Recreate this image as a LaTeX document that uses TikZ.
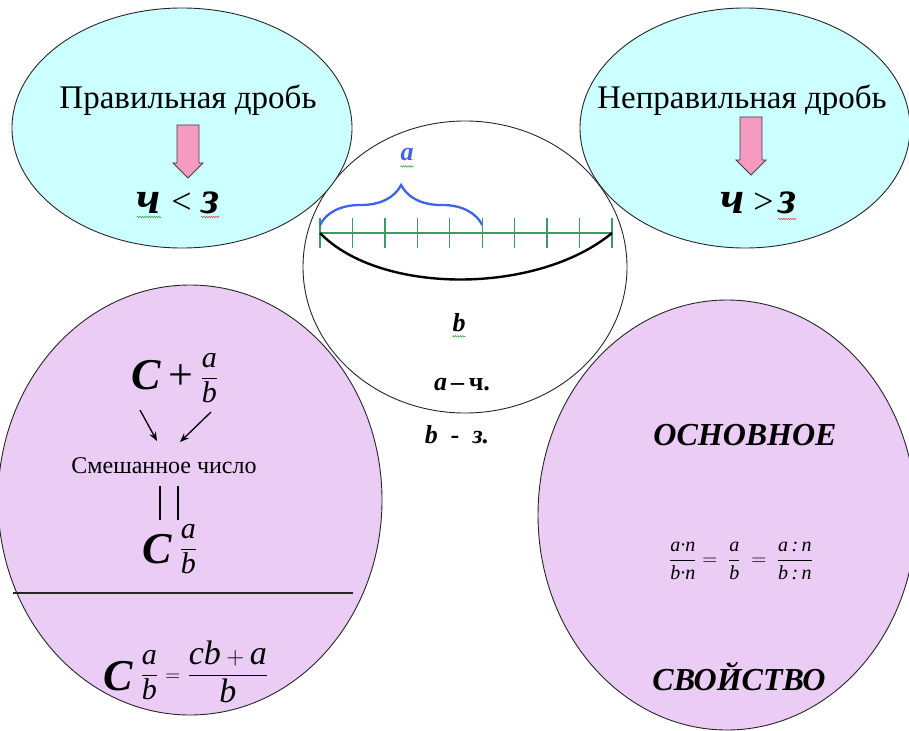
\documentclass[tikz,border=0pt]{standalone}
\usepackage{amsmath}
\usepackage{fontspec}
\setmainfont{Liberation Serif}
\usepackage{tikz}
\usetikzlibrary{
    arrows.meta, positioning, calc, shapes.geometric,
    decorations.pathmorphing, decorations.pathreplacing
}
\definecolor{cyanfill}{HTML}{CCFFFF}
\definecolor{lilacfill}{HTML}{EACCF4}
\definecolor{pinkfill}{HTML}{F59AC1}
\definecolor{rulegreen}{HTML}{3C9A64}
\definecolor{braceblue}{HTML}{3F63E6}
\definecolor{squigred}{HTML}{E0404A}
\definecolor{squiggreen}{HTML}{3A9A3A}

\begin{document}
\begin{tikzpicture}[x=1pt, y=1pt,
    every node/.style={inner sep=0pt},
    bubble/.style={
        ellipse, draw=black!85, line width=0.9pt,
    },
    heading/.style={font=\fontsize{33}{36}\selectfont},
    bigvar/.style={font=\fontsize{46}{46}\selectfont\bfseries\itshape},
    relsign/.style={font=\fontsize{36}{36}\selectfont},
    circvar/.style={font=\fontsize{26}{28}\selectfont\bfseries\itshape},
    mathbox/.style={font=\fontsize{44}{44}\selectfont},
    capsword/.style={font=\fontsize{32}{34}\selectfont\bfseries\itshape},
    blockarrow/.style={
        draw=black!75, fill=pinkfill, line width=0.8pt, line join=miter,
        to path={
            let \p1=(\tikztostart), \p2=(\tikztotarget) in
            (\x1-11pt,\y1) -- (\x1+11pt,\y1) -- (\x1+11pt,\y2+15pt)
            -- (\x1+15pt,\y2+15pt) -- (\x1,\y2) -- (\x1-15pt,\y2+15pt)
            -- (\x1-11pt,\y2+15pt) -- cycle
        },
    },
    squiggle/.style={
        draw=#1, line width=0.5pt,
        decorate, decoration={snake, amplitude=0.8pt, segment length=2.4pt},
    },
    rulerline/.style={draw=rulegreen, line width=1.3pt},
    sagline/.style={draw=black, line width=2.4pt},
    bracepath/.style={
        draw=braceblue, line width=2.3pt,
        decorate, decoration={brace, amplitude=40pt},
    },
    thinarrow/.style={
        draw=black, line width=1.3pt, -{Stealth[length=9pt, width=7pt]},
    },
    eqbar/.style={draw=black, line width=1.8pt},
    divider/.style={draw=black!85, line width=2.4pt},
]
\useasboundingbox (0,0) rectangle (909,-730);

% ── Centre circle: the unit segment ───────────────────────────────────
\node[bubble, fill=white, minimum width=324pt, minimum height=292pt]
    (segBubble) at (465,-267) {};

% ── Top left: proper fraction ─────────────────────────────────────────
\node[bubble, fill=cyanfill, minimum width=340pt, minimum height=240pt]
    (propBubble) at (182,-128) {};
\node[heading] (propTitle) at (188,-100) {Правильная дробь};
\coordinate (propArrTop) at (188,-125);
\coordinate (propArrTip) at (188,-178);
\draw[blockarrow] (propArrTop) to (propArrTip);
\node[bigvar, anchor=base] (propCh) at (149,-213) {ч};
\node[relsign, base right=10pt of propCh] (propLt) {<};
\node[bigvar, base right=9pt of propLt] (propZ) {з};
\draw[squiggle=squiggreen] ([yshift=-4pt]propCh.base west) -- ([yshift=-4pt]propCh.base east);
\draw[squiggle=squigred] ([yshift=-4pt]propZ.base west) -- ([yshift=-4pt]propZ.base east);

% ── Top right: improper fraction ──────────────────────────────────────
\node[bubble, fill=cyanfill, minimum width=330pt, minimum height=240pt]
    (impBubble) at (745,-128) {};
\node[heading] (impTitle) at (742,-100) {Неправильная дробь};
\coordinate (impArrTop) at (751,-117);
\coordinate (impArrTip) at (751,-175);
\draw[blockarrow] (impArrTop) to (impArrTip);
\node[bigvar, anchor=base] (impCh) at (733,-213) {ч};
\node[relsign, base right=8pt of impCh] (impGt) {>};
\node[bigvar, base right=4pt of impGt] (impZ) {з};
\draw[squiggle=squigred] ([yshift=-6pt]impZ.base west) -- ([yshift=-6pt]impZ.base east);

% ── Segment, brace and labels ─────────────────────────────────────────
\coordinate (rulerL) at (320,-233);
\coordinate (rulerR) at (612,-233);
\draw[rulerline] (rulerL) -- (rulerR);
\foreach \i in {0,...,9}
    \draw[rulerline] ($(rulerL)!\i/9!(rulerR)$) ++(0,15) -- ++(0,-30);
\draw[sagline] (rulerL) .. controls +(60,-62) and +(-75,-62) .. (rulerR);
\coordinate (braceL) at (320,-225);
\coordinate (braceR) at ($(rulerL)!5/9!(rulerR)+(0,8)$);
\draw[bracepath] (braceL) -- (braceR);
\node[circvar, text=braceblue] (aLabel) at (407,-155) {a};
\draw[squiggle=squiggreen] ([yshift=-5pt]aLabel.south west) -- ([yshift=-5pt]aLabel.south east);
\node[circvar] (bLabel) at (459,-323) {b};
\draw[squiggle=squiggreen] ([yshift=-4pt]bLabel.south west) -- ([yshift=-4pt]bLabel.south east);
\node[circvar] (aMeans) at (462,-385) {a\,–\,\upshape ч.};
\node[circvar] (bMeans) at (457,-435) {b\ \ -\ \ з.};

% ── Bottom left: mixed number ─────────────────────────────────────────
\node[bubble, fill=lilacfill, minimum width=384pt, minimum height=430pt]
    (mixBubble) at (190,-500) {};
\node[mathbox] (sumForm) at (175,-378) {%
    {\bfseries\itshape C}\,{\fontsize{44}{44}\selectfont+}\,%
    \raisebox{5pt}{\fontsize{30}{30}\selectfont$\dfrac{\textit{a}}{\textit{b}}$}};
\coordinate (sumArrL) at (140,-410);
\coordinate (mixArrL) at (157,-441);
\coordinate (sumArrR) at (211,-412);
\coordinate (mixArrR) at (180,-442);
\draw[thinarrow] (sumArrL) -- (mixArrL);
\draw[thinarrow] (sumArrR) -- (mixArrR);
\node[font=\fontsize{24}{26}\selectfont] (mixed) at (164,-466) {Смешанное число};
\draw[eqbar] ([xshift=-4pt,yshift=-12pt]mixed.south) -- ++(0,-34);
\draw[eqbar] ([xshift=14pt,yshift=-12pt]mixed.south) -- ++(0,-34);
\node[mathbox] (mixForm) at (170,-549) {%
    {\bfseries\itshape C}\,%
    \raisebox{8pt}{\fontsize{30}{30}\selectfont$\dfrac{\textit{a}}{\textit{b}}$}};
\coordinate (divL) at (13,-593);
\coordinate (divR) at (353,-593);
\draw[divider] (divL) -- (divR);
\node[mathbox] (convForm) at (186,-672) {%
    {\bfseries\itshape C}\,%
    \raisebox{9pt}{\fontsize{30}{30}\selectfont$\dfrac{\textit{a}}{\textit{b}}$}\,%
    \raisebox{9pt}{\fontsize{22}{22}\selectfont$=$}\,%
    \raisebox{9pt}{\fontsize{34}{34}\selectfont$\dfrac{\textit{cb}+\textit{a}}{\textit{b}}$}};

% ── Bottom right: basic property ──────────────────────────────────────
\node[bubble, fill=lilacfill, minimum width=378pt, minimum height=430pt]
    (propertyBubble) at (727,-515) {};
\node[capsword] (basicWord) at (745,-435) {ОСНОВНОЕ};
\node[font=\fontsize{20}{22}\selectfont] (basicForm) at (741,-561) {%
    $\dfrac{\textit{a·n}}{\textit{b·n}}=\ \dfrac{\textit{a}}{\textit{b}}\ =\ %
     \dfrac{\textit{a\,:\,n}}{\textit{b\,:\,n}}$};
\node[capsword] (propertyWord) at (739,-677) {СВОЙСТВО};

\end{tikzpicture}
\end{document}
